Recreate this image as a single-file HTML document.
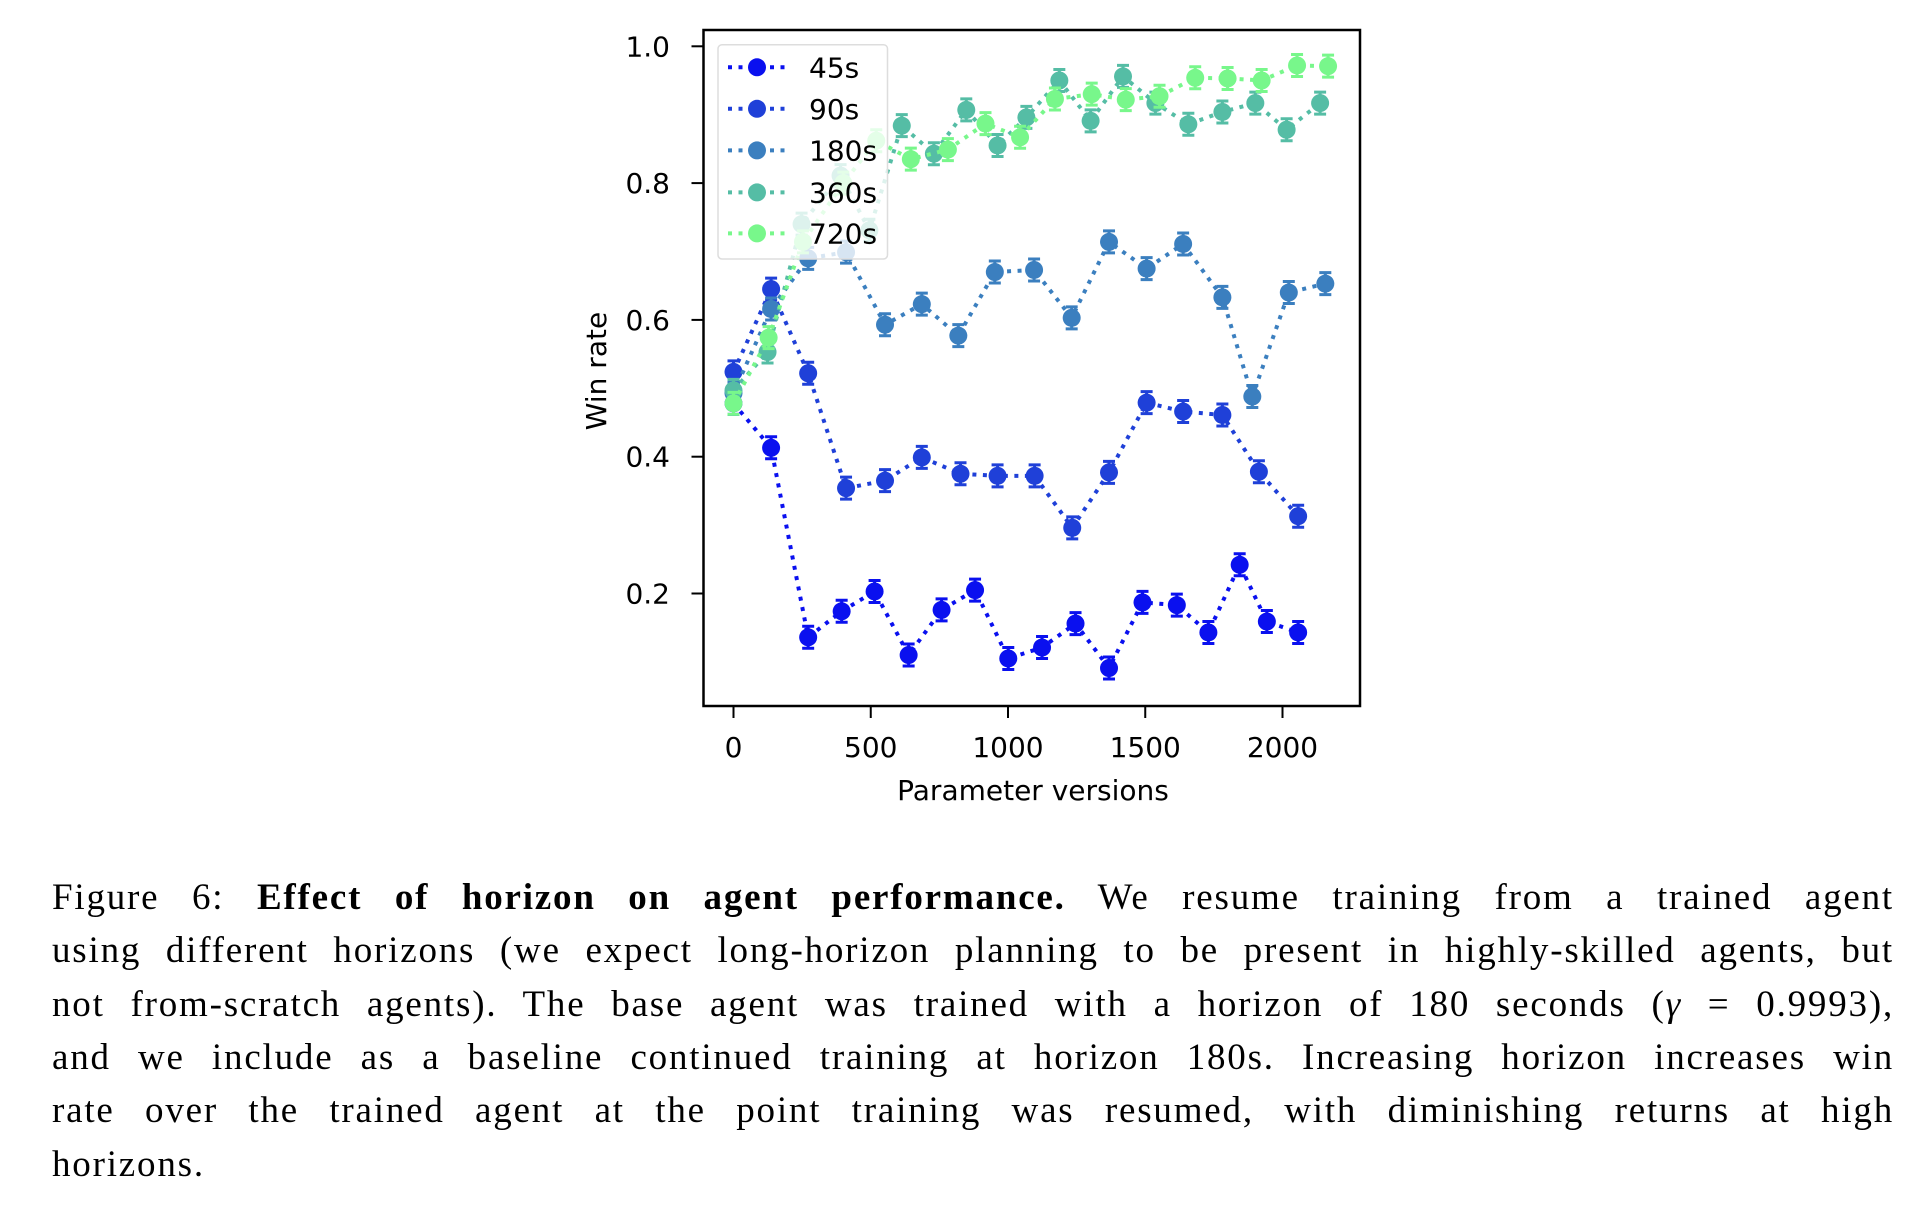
<!DOCTYPE html>
<html><head><meta charset="utf-8"><style>
html,body{margin:0;padding:0;background:#fff;}
body{width:1932px;height:1206px;position:relative;overflow:hidden;}
svg{position:absolute;left:0;top:0;}
.cap{position:absolute;left:52px;width:1842px;font-family:"Liberation Serif",serif;font-size:37px;letter-spacing:1.8px;color:#000;white-space:nowrap;}
.cap.j{text-align:justify;text-align-last:justify;}
</style></head><body>
<svg id="chart" width="1932" height="1206" font-family="DejaVu Sans, Liberation Sans, sans-serif"></svg>
<div class="cap j" style="top:876px">Figure 6: <b>Effect of horizon on agent performance.</b> We resume training from a trained agent</div>
<div class="cap j" style="top:929px">using different horizons (we expect long-horizon planning to be present in highly-skilled agents, but</div>
<div class="cap j" style="top:983px">not from-scratch agents). The base agent was trained with a horizon of 180 seconds (<i>γ</i> = 0.9993),</div>
<div class="cap j" style="top:1036px">and we include as a baseline continued training at horizon 180s. Increasing horizon increases win</div>
<div class="cap j" style="top:1089px">rate over the trained agent at the point training was resumed, with diminishing returns at high</div>
<div class="cap" style="top:1143px">horizons.</div>
<script>
const seriesNames = ["45s","90s","180s","360s","720s"];
const seriesColors = ["#0a10ef","#1f40d8","#3b7fbf","#55bda5","#78f78b"];
const x45 = [0,137,272,394,514,638,758,880,1001,1124,1246,1368,1490,1615,1730,1844,1943,2057];
const y45 = [0.478,0.413,0.136,0.174,0.203,0.110,0.176,0.205,0.105,0.121,0.156,0.091,0.187,0.183,0.143,0.242,0.159,0.143];
const x90 = [0,137,272,410,552,686,827,962,1097,1234,1368,1505,1638,1781,1914,2057];
const y90 = [0.524,0.645,0.522,0.354,0.365,0.399,0.375,0.372,0.372,0.296,0.377,0.479,0.466,0.461,0.378,0.313];
const x180 = [0,137,272,410,552,686,819,952,1095,1232,1368,1505,1638,1781,1890,2023,2156];
const y180 = [0.493,0.616,0.690,0.699,0.593,0.623,0.577,0.670,0.673,0.603,0.714,0.675,0.711,0.633,0.488,0.640,0.653];
const x360 = [0,124,248,390,495,613,730,848,962,1067,1187,1301,1419,1537,1657,1781,1901,2015,2137];
const y360 = [0.497,0.553,0.740,0.811,0.731,0.884,0.843,0.907,0.855,0.896,0.950,0.891,0.956,0.917,0.886,0.904,0.917,0.878,0.917];
const x720 = [0,128,253,400,520,646,781,918,1044,1171,1305,1429,1552,1682,1800,1924,2053,2166];
const y720 = [0.478,0.574,0.714,0.800,0.862,0.835,0.849,0.887,0.867,0.923,0.930,0.922,0.927,0.954,0.953,0.950,0.972,0.971];
const xTicks = [0,500,1000,1500,2000];
const yTicks = [0.2,0.4,0.6,0.8,1.0];

const NS = "http://www.w3.org/2000/svg";
const svg = document.getElementById("chart");
const L=703.5,R=1360,T=30,B=706;
const sx = v => 733.5 + v*0.2745;
const sy = v => 46.3 + (1.0 - v)*684;
function mk(tag, attrs, parent){const e=document.createElementNS(NS,tag);for(const k in attrs)e.setAttribute(k,attrs[k]);(parent||svg).appendChild(e);return e;}

xTicks.forEach(t=>{
  const ln=mk("line",{x1:sx(t),x2:sx(t),y1:B,y2:B+12,stroke:"#000","stroke-width":2});
  
  
  const tx=mk("text",{x:sx(t),y:757,"text-anchor":"middle","font-size":28});
  tx.textContent=String(t);
  
  
});
yTicks.forEach(t=>{
  const ln=mk("line",{x1:L-12,x2:L,y1:sy(t),y2:sy(t),stroke:"#000","stroke-width":2});
  
  
  const tx=mk("text",{x:670,y:sy(t)+10,"text-anchor":"end","font-size":28});
  tx.textContent=t.toFixed(1);
  
  
});
const xt=mk("text",{x:1033,y:800,"text-anchor":"middle","font-size":28});
xt.textContent="Parameter versions";


const yt=mk("text",{x:0,y:0,"text-anchor":"middle","font-size":28,transform:"translate(606,371) rotate(-90)"});
yt.textContent="Win rate";



const allX=[x45,x90,x180,x360,x720], allY=[y45,y90,y180,y360,y720];
allX.forEach((xs,i)=>{
  const ys=allY[i], c=seriesColors[i];
  const g=mk("g",{});
  
  
  const pl=mk("polyline",{points:xs.map((x,j)=>sx(x)+","+sy(ys[j])).join(" "),fill:"none",stroke:c,"stroke-width":4,"stroke-dasharray":"4 6.5"},g);
  
  
  xs.forEach((x,j)=>{
    const cx=sx(x), cy=sy(ys[j]), e=11;
    const eb=mk("path",{d:`M${cx},${cy-e}V${cy+e}M${cx-6},${cy-e}H${cx+6}M${cx-6},${cy+e}H${cx+6}`,stroke:c,"stroke-width":3,fill:"none"},g);
    
    
    const p=mk("circle",{cx:cx,cy:cy,r:9,fill:c},g);
    
    
  });
});

const fr=mk("rect",{x:L,y:T,width:R-L,height:B-T,fill:"none",stroke:"#000","stroke-width":2.5});



const lg=mk("g",{});


mk("rect",{x:718,y:44.7,width:169.5,height:214.3,rx:4,fill:"rgba(255,255,255,0.8)",stroke:"#ddd","stroke-width":1.5},lg);
const legY=[67.3,108.8,150.4,192.4,233.4];
seriesNames.forEach((n,i)=>{
  const ge=mk("g",{},lg);
  
  
  mk("line",{x1:728,x2:787,y1:legY[i],y2:legY[i],stroke:seriesColors[i],"stroke-width":4,"stroke-dasharray":"4 6.5"},ge);
  mk("circle",{cx:757,cy:legY[i],r:9,fill:seriesColors[i]},ge);
  const t=mk("text",{x:809,y:legY[i]+10,"font-size":28},ge);
  t.textContent=n;
});
</script>
</body></html>
